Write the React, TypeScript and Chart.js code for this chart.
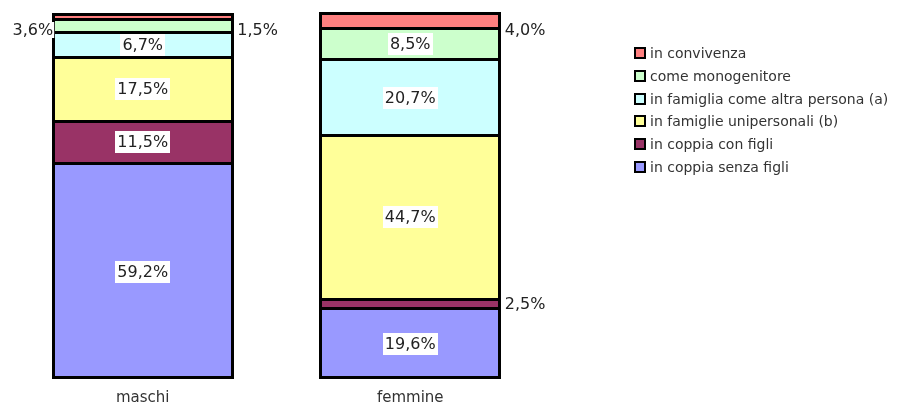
import React, { useEffect, useRef } from "react";
import { Chart, registerables } from "chart.js";

Chart.register(...registerables);

const categories = ["maschi", "femmine"];
const seriesNames = [
  "in coppia senza figli",
  "in coppia con figli",
  "in famiglie unipersonali (b)",
  "in famiglia come altra persona (a)",
  "come monogenitore",
  "in convivenza",
];
const senzaFigli = [59.2, 19.6];
const conFigli = [11.5, 2.5];
const unipersonali = [17.5, 44.7];
const altraPersona = [6.7, 20.7];
const monogenitore = [3.6, 8.5];
const convivenza = [1.5, 4.0];
const seriesValues = [senzaFigli, conFigli, unipersonali, altraPersona, monogenitore, convivenza];
const colors = ["#9999FF", "#993366", "#FFFF99", "#CCFFFF", "#CCFFCC", "#FF8080"];

const FONT = "'DejaVu Sans', Verdana, sans-serif";
const BORDER = 3;

const fmt = (v: number) => v.toFixed(1).replace(".", ",") + "%";

const segmentBorders = {
  id: "segmentBorders",
  afterDatasetsDraw(chart: any) {
    const ctx = chart.ctx;
    ctx.save();
    ctx.fillStyle = "#000000";
    const nCat = chart.data.labels.length;
    const nDs = chart.data.datasets.length;
    for (let i = 0; i < nCat; i++) {
      let minY = Infinity;
      let maxY = -Infinity;
      let left = 0;
      let right = 0;
      for (let d = 0; d < nDs; d++) {
        const p = chart.getDatasetMeta(d).data[i].getProps(["x", "y", "base", "width"], true);
        left = Math.floor(p.x - p.width / 2);
        right = Math.ceil(p.x + p.width / 2);
        const top = Math.floor(Math.min(p.y, p.base));
        const bottom = Math.ceil(Math.max(p.y, p.base));
        minY = Math.min(minY, top);
        maxY = Math.max(maxY, bottom);
        // separator line at the top edge of every segment
        ctx.fillRect(left, top, right - left, BORDER);
      }
      // outer frame
      ctx.fillRect(left, minY, BORDER, maxY - minY);
      ctx.fillRect(right - BORDER, minY, BORDER, maxY - minY);
      ctx.fillRect(left, maxY - BORDER, right - left, BORDER);
    }
    ctx.restore();
  },
};

const valueLabels = {
  id: "valueLabels",
  afterDatasetsDraw(chart: any) {
    const ctx = chart.ctx;
    const top = chart.chartArea.top;
    ctx.save();
    ctx.font = `16px ${FONT}`;
    ctx.textBaseline = "middle";
    const nCat = chart.data.labels.length;
    for (let i = 0; i < nCat; i++) {
      const placedRight: number[] = [];
      for (let d = chart.data.datasets.length - 1; d >= 0; d--) {
        const bar = chart.getDatasetMeta(d).data[i];
        const v = chart.data.datasets[d].data[i] as number;
        const p = bar.getProps(["x", "y", "base", "width"], true);
        const txt = fmt(v);
        const w = ctx.measureText(txt).width;
        const segH = Math.abs(p.base - p.y);
        const cy = (p.y + p.base) / 2 + 1;
        if (segH >= 20) {
          ctx.fillStyle = "#ffffff";
          ctx.fillRect(Math.round(p.x - w / 2 - 2), Math.round(cy - 11), Math.round(w + 4), 22);
          ctx.fillStyle = "#222222";
          ctx.textAlign = "center";
          ctx.fillText(txt, p.x, cy + 1);
        } else {
          const y = Math.max(cy, top + 17);
          const right = !placedRight.some((py) => Math.abs(py - y) < 22);
          if (right) {
            placedRight.push(y);
            const x = p.x + p.width / 2 + 4;
            ctx.textAlign = "left";
            ctx.fillStyle = "#222222";
            ctx.fillText(txt, x, y + 1);
          } else {
            const x = p.x - p.width / 2 + 1;
            ctx.fillStyle = "#ffffff";
            ctx.fillRect(x - w - 1, y - 8, w + 2, 16);
            ctx.textAlign = "right";
            ctx.fillStyle = "#222222";
            ctx.fillText(txt, x, y + 1);
          }
        }
      }
    }
    ctx.restore();
  },
};

const sideLegend = {
  id: "sideLegend",
  afterDraw(chart: any) {
    const ctx = chart.ctx;
    ctx.save();
    ctx.font = `14px ${FONT}`;
    ctx.textBaseline = "middle";
    ctx.textAlign = "left";
    const ds = chart.data.datasets;
    for (let k = ds.length - 1, r = 0; k >= 0; k--, r++) {
      const y = Math.round(53 + r * 22.8);
      ctx.fillStyle = "#000000";
      ctx.fillRect(634, y - 6, 12, 12);
      ctx.fillStyle = ds[k].backgroundColor;
      ctx.fillRect(636, y - 4, 8, 8);
      ctx.fillStyle = "#333333";
      ctx.fillText(ds[k].label, 650, y + 1);
    }
    ctx.restore();
  },
};

export default function App() {
  const ref = useRef<HTMLCanvasElement>(null);
  useEffect(() => {
    const chart = new Chart(ref.current!, {
      type: "bar",
      data: {
        labels: categories,
        datasets: seriesNames.map((name, d) => ({
          label: name,
          data: seriesValues[d],
          backgroundColor: colors[d],
          borderWidth: 0,
          inflateAmount: 0,
          categoryPercentage: 1,
          barPercentage: 0.677,
        })),
      } as any,
      options: {
        responsive: false,
        animation: false,
        layout: { padding: { left: 9, right: 380, top: 13, bottom: -12 } },
        plugins: {
          legend: { display: false },
          tooltip: { enabled: false },
        },
        scales: {
          x: {
            stacked: true,
            grid: { display: false, drawTicks: false },
            border: { display: false },
            ticks: { color: "#333333", font: { family: FONT, size: 15 }, padding: 10 },
          },
          y: { stacked: true, display: false, min: 0, max: 100 },
        },
      } as any,
      plugins: [segmentBorders, valueLabels, sideLegend],
    });
    return () => chart.destroy();
  }, []);
  return (
    <div style={{ position: "absolute", left: 0, top: 0, width: 924, height: 405, background: "#ffffff" }}>
      <canvas ref={ref} width={924} height={405} style={{ display: "block" }} />
    </div>
  );
}
